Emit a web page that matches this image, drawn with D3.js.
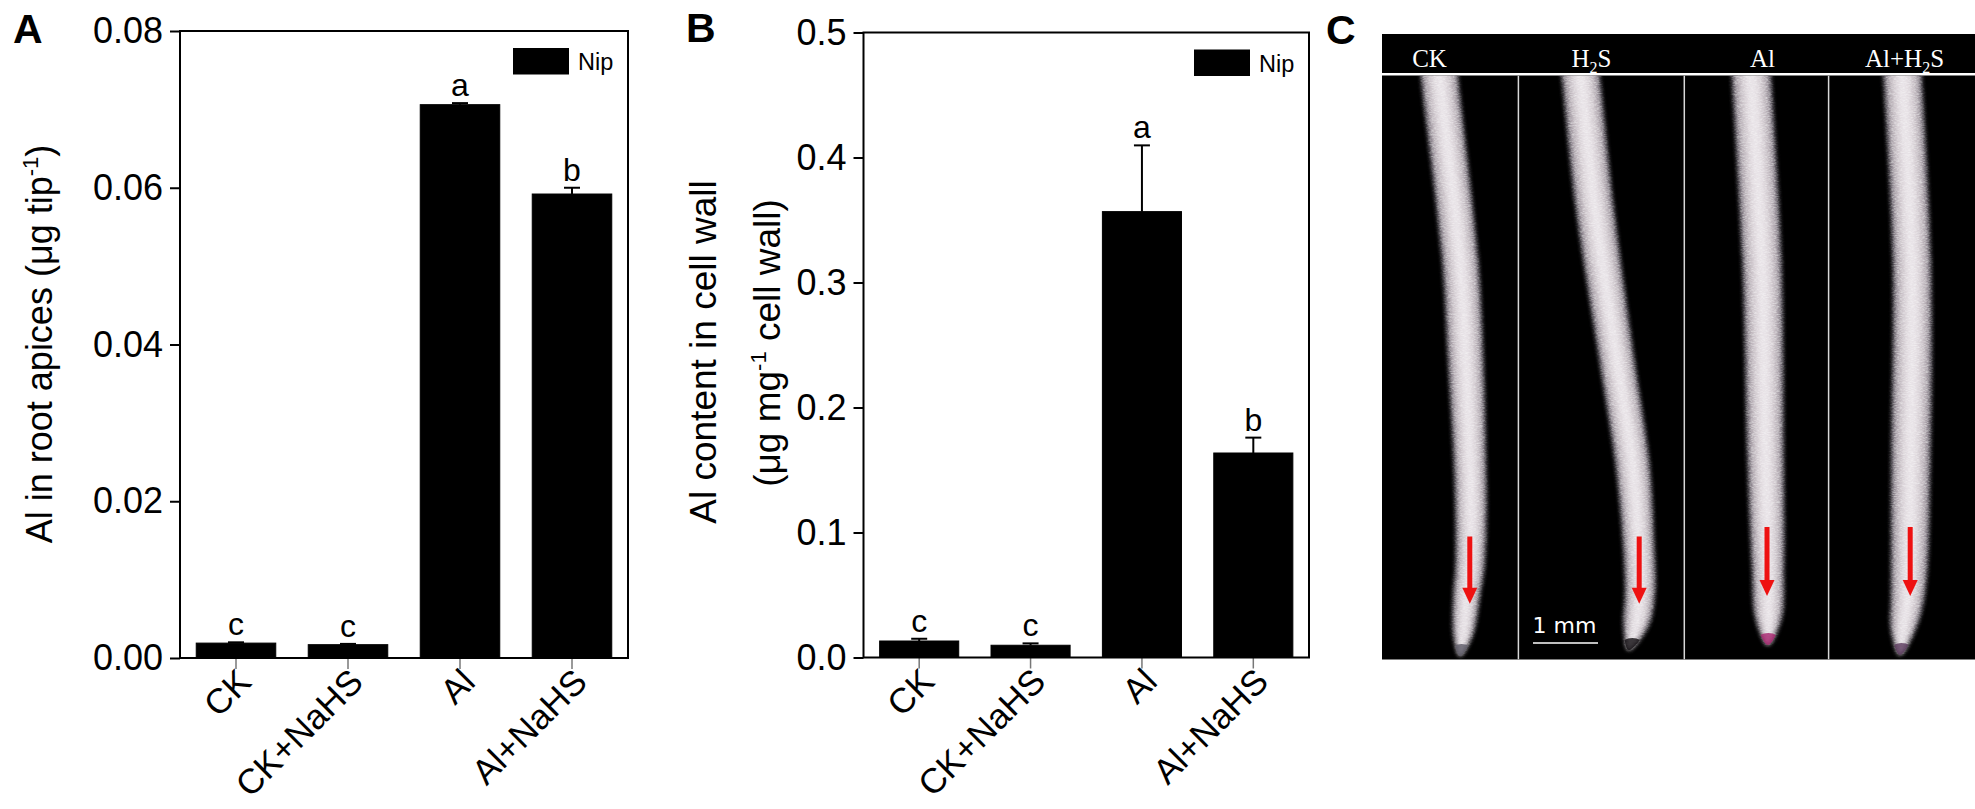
<!DOCTYPE html>
<html>
<head>
<meta charset="utf-8">
<script src="https://cdn.jsdelivr.net/npm/d3@7"></script>
<style>
body { margin: 0; background: #fff; }
svg { display: block; font-family: "Liberation Sans", Arial, sans-serif; }
</style>
</head>
<body>
<svg id="fig" width="1975" height="809"></svg>
<script>
// ---- data ----
const categories = ["CK", "CK+NaHS", "Al", "Al+NaHS"];

// panel A: Al in root apices (ug tip-1)
const apexValues = [0.0019, 0.0017, 0.0706, 0.0592];
const apexErrors = [0.0001, 0.0001, 0.0002, 0.0008];
const apexLetters = ["c", "c", "a", "b"];
const apexTicks = [0, 0.02, 0.04, 0.06, 0.08];

// panel B: Al content in cell wall (ug mg-1 cell wall)
const wallValues = [0.0132, 0.0098, 0.3567, 0.1636];
const wallErrors = [0.0018, 0.0015, 0.053, 0.0123];
const wallLetters = ["c", "c", "a", "b"];
const wallTicks = [0, 0.1, 0.2, 0.3, 0.4, 0.5];

// panel C: photo lanes
const photoLabels = [["CK", ""], ["H", "2", "S"], ["Al", ""], ["Al+H", "2", "S"]];

const svg = d3.select("#fig");
svg.append("rect").attr("width", 1975).attr("height", 809).attr("fill", "#fff");

function drawBarPanel(cfg) {
    const x = d3.scaleBand()
        .domain(categories)
        .range([cfg.left, cfg.right])
        .paddingInner(0.29)
        .paddingOuter(0.145);
    const y = d3.scaleLinear()
        .domain([0, cfg.yMax])
        .range([cfg.bottom, cfg.top]);

    const g = svg.append("g");

    g.selectAll("rect.bar")
        .data(cfg.values)
        .enter()
        .append("rect")
        .attr("class", "bar")
        .attr("x", (d, i) => x(categories[i]))
        .attr("y", d => y(d))
        .attr("width", x.bandwidth())
        .attr("height", d => cfg.bottom - y(d))
        .attr("fill", "#000")
        .attr("stroke", "#000")
        .attr("stroke-width", 1);

    const cx = i => x(categories[i]) + x.bandwidth() / 2;

    // error bars (upper half only)
    g.selectAll("line.err")
        .data(cfg.values)
        .enter()
        .append("line")
        .attr("x1", (d, i) => cx(i)).attr("x2", (d, i) => cx(i))
        .attr("y1", d => y(d))
        .attr("y2", (d, i) => y(d + cfg.errors[i]))
        .attr("stroke", "#000").attr("stroke-width", 2);
    g.selectAll("line.cap")
        .data(cfg.values)
        .enter()
        .append("line")
        .attr("x1", (d, i) => cx(i) - 8).attr("x2", (d, i) => cx(i) + 8)
        .attr("y1", (d, i) => y(d + cfg.errors[i]))
        .attr("y2", (d, i) => y(d + cfg.errors[i]))
        .attr("stroke", "#000").attr("stroke-width", 2);

    g.selectAll("text.sig")
        .data(cfg.letters)
        .enter()
        .append("text")
        .attr("x", (d, i) => cx(i))
        .attr("y", (d, i) => y(cfg.values[i] + cfg.errors[i]) - 7)
        .attr("text-anchor", "middle")
        .attr("font-size", 32)
        .text(d => d);

    const yAxis = g.append("g")
        .attr("transform", "translate(" + cfg.left + ",0)")
        .call(d3.axisLeft(y).tickValues(cfg.ticks).tickFormat(cfg.format).tickSize(10).tickPadding(7));
    yAxis.attr("font-family", null).attr("font-size", 36);
    yAxis.select(".domain").remove();
    yAxis.selectAll(".tick line").attr("stroke-width", 2);

    const xAxis = g.append("g")
        .attr("transform", "translate(0," + cfg.bottom + ")")
        .call(d3.axisBottom(x).tickSize(11));
    xAxis.attr("font-family", null).attr("font-size", 35);
    xAxis.select(".domain").remove();
    xAxis.selectAll(".tick line").attr("stroke", "#777").attr("stroke-width", 1.5);
    xAxis.selectAll(".tick text")
        .attr("y", 0).attr("dy", 0)
        .attr("text-anchor", "end")
        .attr("transform", "translate(17,26) rotate(-45)");

    g.append("rect")
        .attr("x", cfg.left).attr("y", cfg.top)
        .attr("width", cfg.right - cfg.left)
        .attr("height", cfg.bottom - cfg.top)
        .attr("fill", "none")
        .attr("stroke", "#000")
        .attr("stroke-width", 2);

    // legend
    g.append("rect")
        .attr("x", cfg.right - 115).attr("y", cfg.top + 17)
        .attr("width", 56).attr("height", 26.5)
        .attr("fill", "#000");
    g.append("text")
        .attr("x", cfg.right - 50).attr("y", cfg.top + 39)
        .attr("font-size", 23.5)
        .text("Nip");

    svg.append("text")
        .attr("x", cfg.letterX).attr("y", cfg.letterY)
        .attr("font-size", 41).attr("font-weight", "bold")
        .text(cfg.letter);
}

drawBarPanel({
    left: 180, right: 628, top: 31, bottom: 658,
    yMax: 0.08, ticks: apexTicks, format: d3.format(".2f"),
    values: apexValues, errors: apexErrors, letters: apexLetters,
    letter: "A", letterX: 13, letterY: 43
});

drawBarPanel({
    left: 863.5, right: 1309, top: 32.5, bottom: 657.5,
    yMax: 0.5, ticks: wallTicks, format: d3.format(".1f"),
    values: wallValues, errors: wallErrors, letters: wallLetters,
    letter: "B", letterX: 686, letterY: 42
});

// y titles
const titleA = svg.append("text")
    .attr("transform", "translate(52,344) rotate(-90)")
    .attr("text-anchor", "middle")
    .attr("font-size", 36);
titleA.append("tspan").text("Al in root apices (\u03bcg tip");
titleA.append("tspan").attr("font-size", 22).attr("dy", -14).text("-1");
titleA.append("tspan").attr("dy", 14).text(")");

svg.append("text")
    .attr("transform", "translate(716,352) rotate(-90)")
    .attr("text-anchor", "middle")
    .attr("font-size", 37)
    .text("Al content in cell wall");
const titleB = svg.append("text")
    .attr("transform", "translate(780,343) rotate(-90)")
    .attr("text-anchor", "middle")
    .attr("font-size", 37);
titleB.append("tspan").text("(\u03bcg mg");
titleB.append("tspan").attr("font-size", 22).attr("dy", -14).text("-1");
titleB.append("tspan").attr("dy", 14).text(" cell wall)");

// ---- panel C: root tip photo, drawn as an illustration ----
svg.append("text")
    .attr("x", 1326).attr("y", 44)
    .attr("font-size", 41).attr("font-weight", "bold")
    .text("C");

const photoW = 593, photoH = 583.5;
const px = d3.scaleLinear().domain([0, photoW]).range([1382, 1975]);
const py = d3.scaleLinear().domain([0, photoH]).range([75.5, 659.5]);

// lane dividers and label centres (photo units)
const laneEdges = [136.4, 302.3, 446.6];
const labelCentres = [47.5, 209.5, 380.5, 522.5];

// root centre lines: [x, y, half width] in photo units
const roots = [
    [[57, -8, 18.5], [57.4, 0, 18.5], [78, 182, 18], [83.8, 285, 17.6], [88, 388, 16], [89, 440, 15.5], [88, 490, 14.5], [85, 517, 13.5], [81, 560, 9.5], [78, 580, 0]],
    [[197, -8, 19], [198.5, 0, 19], [212.5, 130, 19], [235, 285, 17.5], [250.5, 388, 17], [256.5, 466, 15.5], [258, 517, 15], [254, 550, 12.5], [246.6, 574, 0]],
    [[369, -8, 19.5], [369.4, 0, 19.5], [379.8, 182, 19.5], [383.7, 388, 18], [386, 491, 16], [386.5, 543, 13], [386, 569, 0]],
    [[520, -8, 19], [520.5, 0, 19], [529.8, 182, 19], [528.8, 388, 19.5], [526, 517, 17], [521, 555, 12], [518, 579, 0]]
];
const tipColors = ["#5d5a66", "#120e12", "#a8236e", "#5a3a5c"];
const arrows = [[87.8, 460.6, 527.7], [257.2, 460.6, 527.7], [385, 451, 520], [528.2, 451, 520]];

svg.append("rect")
    .attr("x", px(0)).attr("y", 34)
    .attr("width", px(photoW) - px(0)).attr("height", 39)
    .attr("fill", "#000");
svg.append("rect")
    .attr("x", px(0)).attr("y", py(0))
    .attr("width", px(photoW) - px(0)).attr("height", py(photoH) - py(0))
    .attr("fill", "#000");

const defs = svg.append("defs");
defs.append("clipPath").attr("id", "photoClip")
    .append("rect")
    .attr("x", px(0)).attr("y", py(0))
    .attr("width", px(photoW) - px(0)).attr("height", py(photoH) - py(0));

// soft shading plus a fine grain, like the micrograph texture
const tex = defs.append("filter").attr("id", "rootTex")
    .attr("x", "-20%").attr("y", "-5%").attr("width", "140%").attr("height", "110%");
tex.append("feGaussianBlur").attr("in", "SourceGraphic").attr("stdDeviation", 2.2).attr("result", "soft");
tex.append("feTurbulence").attr("type", "fractalNoise")
    .attr("baseFrequency", "0.35 1.1").attr("numOctaves", 2).attr("seed", 7).attr("result", "noise");
tex.append("feColorMatrix").attr("in", "noise").attr("type", "matrix")
    .attr("values", "0 0 0 0 1  0 0 0 0 1  0 0 0 0 1  0.9 0 0 0 -0.35").attr("result", "speck");
tex.append("feComposite").attr("in", "speck").attr("in2", "soft").attr("operator", "in").attr("result", "speckIn");
const merge = tex.append("feMerge");
merge.append("feMergeNode").attr("in", "soft");
merge.append("feMergeNode").attr("in", "speckIn");

const photo = svg.append("g").attr("clip-path", "url(#photoClip)");

const outline = d3.line()
    .x(d => px(d[0]))
    .y(d => py(d[1]))
    .curve(d3.curveCatmullRomClosed);

function rootShape(pts, k) {
    const left = pts.map(p => [p[0] - p[2] * k, p[1]]);
    const right = pts.slice(0, -1).map(p => [p[0] + p[2] * k, p[1]]).reverse();
    return left.concat(right);
}

const shades = [[1, "#6f6878"], [0.88, "#a39aa2"], [0.7, "#c4bcc2"], [0.48, "#dbd4d9"], [0.24, "#e8e3e7"]];
roots.forEach((pts, i) => {
    defs.append("clipPath").attr("id", "rootClip" + i)
        .append("path").attr("d", outline(rootShape(pts, 1)));
    const rg = photo.append("g").attr("filter", "url(#rootTex)");
    shades.forEach(s => {
        rg.append("path")
            .attr("d", outline(rootShape(pts, s[0])))
            .attr("fill", s[1]);
    });
    const tip = pts[pts.length - 1];
    const pre = pts[pts.length - 2];
    photo.append("g").attr("clip-path", "url(#rootClip" + i + ")")
        .append("ellipse")
        .attr("cx", px((tip[0] + pre[0]) / 2))
        .attr("cy", py(tip[1] - 5))
        .attr("rx", 11).attr("ry", 7)
        .attr("fill", tipColors[i])
        .attr("opacity", 0.8);
});

laneEdges.forEach(e => {
    photo.append("line")
        .attr("x1", px(e)).attr("x2", px(e))
        .attr("y1", py(0)).attr("y2", py(photoH))
        .attr("stroke", "#d8d8d8").attr("stroke-width", 1.5);
});

arrows.forEach(a => {
    photo.append("line")
        .attr("x1", px(a[0])).attr("x2", px(a[0]))
        .attr("y1", py(a[1])).attr("y2", py(a[2] - 14))
        .attr("stroke", "#ee1111").attr("stroke-width", 5);
    photo.append("path")
        .attr("d", "M" + (px(a[0]) - 7.5) + "," + py(a[2] - 16) +
            "L" + (px(a[0]) + 7.5) + "," + py(a[2] - 16) +
            "L" + px(a[0]) + "," + py(a[2]) + "Z")
        .attr("fill", "#ee1111");
});

// scale bar
photo.append("text")
    .attr("x", px(150.5)).attr("y", py(557))
    .attr("fill", "#fff")
    .attr("font-family", "DejaVu Sans")
    .attr("font-size", 22)
    .text("1 mm");
photo.append("line")
    .attr("x1", px(151)).attr("x2", px(216))
    .attr("y1", py(567)).attr("y2", py(567))
    .attr("stroke", "#fff").attr("stroke-width", 1.5);

photoLabels.forEach((lab, i) => {
    const t = svg.append("text")
        .attr("x", px(labelCentres[i])).attr("y", 66.5)
        .attr("text-anchor", "middle")
        .attr("fill", "#fff")
        .attr("font-family", "\"Liberation Serif\", \"Times New Roman\", serif")
        .attr("font-size", 25);
    t.append("tspan").text(lab[0]);
    if (lab[1]) {
        t.append("tspan").attr("font-size", 16).attr("dy", 6).text(lab[1]);
        t.append("tspan").attr("dy", -6).text(lab[2]);
    }
});
</script>
</body>
</html>
